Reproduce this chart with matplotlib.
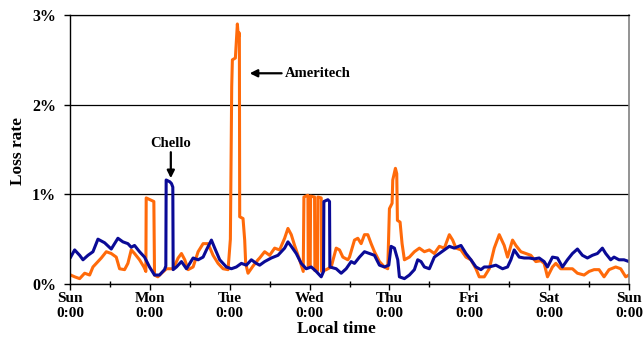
import matplotlib
matplotlib.use("Agg")
import matplotlib.pyplot as plt
from matplotlib.ticker import FuncFormatter, MultipleLocator

# ---------------------------------------------------------------
# DATA (hours since Sun 0:00, loss rate in %)
# ---------------------------------------------------------------
days = ["Sun", "Mon", "Tue", "Wed", "Thu", "Fri", "Sat", "Sun"]
day_hours = [0, 24, 48, 72, 96, 120, 144, 168]
y_ticks = [0, 1, 2, 3]

ameritech_hours = [
    0.2, 1.4, 2.9, 4.4, 5.9, 6.9, 8.4, 9.4, 10.9, 12.4, 13.9, 14.9, 16.4,
    17.4, 18.4, 19.4, 20.9, 22.2, 22.8, 22.9, 25.2, 25.4, 26.4, 27.5, 29.0,
    31.0, 32.5, 33.5, 34.5, 35.5, 37.0, 38.5, 40.0, 41.5, 43.0, 44.5, 46.0,
    47.5, 48.2, 48.6, 48.8, 49.7, 50.0, 50.3, 50.6, 50.9, 51.0, 52.0, 52.5,
    52.8, 53.5, 55.0, 56.5, 57.0, 58.5, 60.0, 61.5, 63.0, 64.5, 65.5, 66.5,
    67.5, 69.0, 70.1, 70.3, 71.5, 71.6, 72.2, 72.3, 73.5, 73.6, 74.4, 74.5,
    75.5, 75.6, 77.0, 78.5, 80.0, 81.0, 82.0, 83.5, 84.0, 85.5, 86.5, 87.5,
    88.5, 89.5, 90.5, 91.5, 93.0, 94.5, 95.5, 96.0, 96.8, 97.0, 97.8, 98.2,
    98.4, 99.2, 99.8, 100.5, 102.0, 103.5, 105.0, 106.5, 108.0, 109.5, 111.0,
    112.5, 114.0, 115.0, 116.0, 117.5, 119.0, 120.5, 122.0, 123.0, 124.5,
    126.0, 127.5, 129.0, 130.5, 131.5, 133.0, 134.0, 135.5, 137.0, 138.5,
    140.0, 141.5, 142.5, 143.5, 145.0, 146.0, 147.5, 149.5, 151.0, 152.5,
    154.5, 156.0, 157.5, 159.0, 160.5, 162.0, 164.0, 165.5, 167.0, 168.0,
]
ameritech_loss = [
    0.10, 0.08, 0.06, 0.12, 0.10, 0.19, 0.25, 0.29, 0.36, 0.34, 0.30, 0.17, 0.16,
    0.23, 0.38, 0.34, 0.27, 0.19, 0.14, 0.96, 0.92, 0.10, 0.08, 0.12, 0.17,
    0.17, 0.29, 0.34, 0.27, 0.16, 0.19, 0.36, 0.45, 0.45, 0.32, 0.23, 0.17,
    0.16, 0.50, 2.20, 2.50, 2.52, 2.70, 2.90, 2.75, 2.80, 0.75, 0.73, 0.49,
    0.23, 0.12, 0.20, 0.27, 0.29, 0.36, 0.32, 0.40, 0.38, 0.51, 0.62, 0.55,
    0.43, 0.27, 0.14, 0.97, 0.99, 0.20, 0.20, 0.98, 0.97, 0.15, 0.15, 0.97,
    0.96, 0.14, 0.16, 0.19, 0.40, 0.38, 0.30, 0.27, 0.30, 0.49, 0.51, 0.45,
    0.55, 0.55, 0.45, 0.36, 0.25, 0.19, 0.17, 0.84, 0.90, 1.16, 1.29, 1.23,
    0.71, 0.69, 0.45, 0.27, 0.30, 0.36, 0.40, 0.36, 0.38, 0.34, 0.42,
    0.40, 0.55, 0.49, 0.40, 0.38, 0.30, 0.27, 0.17, 0.08, 0.08,
    0.17, 0.40, 0.55, 0.43, 0.30, 0.49, 0.43, 0.36, 0.34, 0.32,
    0.25, 0.26, 0.23, 0.08, 0.19, 0.23, 0.17, 0.17, 0.17, 0.12,
    0.10, 0.14, 0.16, 0.16, 0.08, 0.16, 0.19, 0.17, 0.08, 0.10,
]

chello_hours = [
    0.2, 1.4, 2.9, 3.9, 5.4, 6.9, 8.4, 10.4, 12.4, 14.4, 15.9, 17.4, 18.4,
    19.4, 20.9, 22.4, 23.9, 25.4, 26.9, 28.4, 28.8, 28.9, 30.0, 30.5, 30.9,
    31.0, 32.0, 33.5, 35.0, 37.0, 38.5, 40.0, 41.0, 42.5, 43.5, 45.0, 47.0,
    48.5, 50.0, 51.5, 53.0, 54.5, 56.0, 57.0, 58.5, 60.5, 62.5, 64.5, 65.5,
    66.5, 68.0, 69.5, 71.0, 72.5, 74.0, 75.5, 76.2, 76.3, 77.5, 78.0, 78.1,
    80.0, 81.5, 83.0, 84.5, 85.5, 87.0, 88.5, 90.0, 91.5, 93.0, 94.5, 95.8,
    96.5, 97.5, 98.5, 99.0, 100.5, 102.0, 103.5, 104.5, 105.5, 106.5, 108.0,
    109.5, 111.0, 112.5, 114.0, 115.5, 117.5, 119.0, 120.5, 122.0, 123.5,
    124.5, 126.0, 128.0, 130.0, 131.5, 132.5, 133.5, 135.0, 136.5, 138.0,
    139.5, 141.0, 142.5, 143.5, 145.0, 146.5, 148.0, 149.5, 151.0, 152.5,
    154.0, 155.5, 157.0, 158.5, 160.0, 161.0, 162.5, 163.5, 165.0, 166.5, 168.0,
]
chello_loss = [
    0.30, 0.38, 0.32, 0.27, 0.32, 0.36, 0.50, 0.46, 0.39, 0.51, 0.47, 0.45, 0.41,
    0.43, 0.36, 0.30, 0.19, 0.10, 0.10, 0.16, 0.20, 1.16, 1.14, 1.12, 1.08,
    0.16, 0.19, 0.25, 0.17, 0.29, 0.27, 0.30, 0.38, 0.49, 0.40, 0.27, 0.19,
    0.17, 0.19, 0.23, 0.21, 0.27, 0.23, 0.21, 0.25, 0.29, 0.32, 0.40, 0.47,
    0.42, 0.34, 0.23, 0.17, 0.19, 0.14, 0.08, 0.14, 0.92, 0.94, 0.92, 0.19,
    0.17, 0.12, 0.17, 0.25, 0.23, 0.30, 0.36, 0.34, 0.32, 0.21, 0.19, 0.21,
    0.42, 0.40, 0.27, 0.08, 0.06, 0.10, 0.16, 0.27, 0.25, 0.19, 0.17,
    0.30, 0.34, 0.38, 0.42, 0.40, 0.43, 0.34, 0.27, 0.19, 0.16,
    0.19, 0.19, 0.21, 0.17, 0.19, 0.27, 0.38, 0.30, 0.29, 0.29,
    0.28, 0.29, 0.25, 0.19, 0.30, 0.29, 0.19, 0.27, 0.34, 0.39,
    0.32, 0.29, 0.32, 0.34, 0.40, 0.34, 0.27, 0.30, 0.27, 0.27, 0.25,
]

# ---------------------------------------------------------------
# PLOT
# ---------------------------------------------------------------
plt.rcParams["font.family"] = ["Liberation Serif", "DejaVu Serif"]
plt.rcParams["font.weight"] = "bold"

fig = plt.figure(figsize=(6.44, 3.37), dpi=100)
ax = fig.add_axes([70 / 644, 1 - 284 / 337, 559 / 644, 269 / 337])

ax.plot(ameritech_hours, ameritech_loss, color="#FF6A0A", linewidth=2.2,
        solid_joinstyle="round")
ax.plot(chello_hours, chello_loss, color="#0A0A96", linewidth=2.2,
        solid_joinstyle="round")

ax.set_xlim(0, 168)
ax.set_ylim(0, 3)

ax.set_xticks(day_hours)
ax.set_xticklabels([f"{d}\n0:00" for d in days], fontsize=11, fontweight="bold")
ax.xaxis.set_minor_locator(MultipleLocator(12))
ax.tick_params(axis="x", which="major", direction="out", length=4, width=1,
               pad=1.5)
ax.tick_params(axis="x", which="minor", direction="inout", length=5, width=1)

ax.set_yticks(y_ticks)
ax.yaxis.set_major_formatter(FuncFormatter(lambda v, p: f"{v:.0f}%"))
ax.tick_params(axis="y", direction="out", length=4, width=1, pad=6,
               labelsize=11.5)
for lab in ax.get_yticklabels():
    lab.set_fontweight("bold")

ax.grid(axis="y", color="black", linewidth=0.9)
ax.set_axisbelow(True)

ax.spines["top"].set_linewidth(0.9)
ax.spines["right"].set_color("#808080")
ax.spines["right"].set_linewidth(1.2)
ax.spines["left"].set_linewidth(1.0)
ax.spines["bottom"].set_linewidth(1.0)

fig.text(336 / 644, 1 - 329 / 337, "Local time", ha="center", va="center",
         fontsize=12.5, fontweight="bold")
fig.text(18 / 644, 1 - 151 / 337, "Loss rate", ha="center", va="center",
         rotation=90, fontsize=12.5, fontweight="bold")

# annotations
ax.annotate("", xy=(54, 2.35), xytext=(63.6, 2.35),
            arrowprops=dict(arrowstyle="-|>", color="black", lw=1.6,
                            mutation_scale=11, shrinkA=0, shrinkB=0))
ax.text(64.5, 2.35, "Ameritech", ha="left", va="center", fontsize=10.5,
        fontweight="bold")

ax.annotate("", xy=(30.3, 1.18), xytext=(30.3, 1.47),
            arrowprops=dict(arrowstyle="-|>", color="black", lw=1.6,
                            mutation_scale=11, shrinkA=0, shrinkB=0))
ax.text(30.3, 1.57, "Chello", ha="center", va="center", fontsize=10.5,
        fontweight="bold")

plt.savefig("out.png", dpi=100)
